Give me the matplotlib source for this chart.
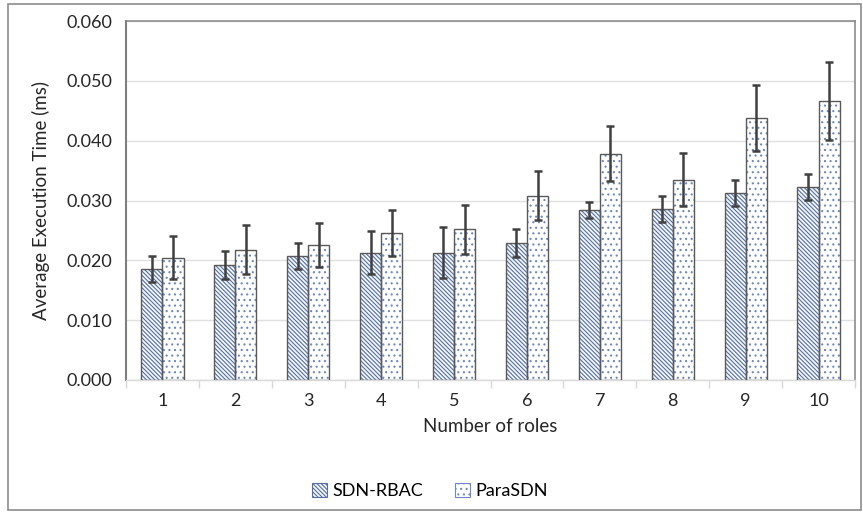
import matplotlib
matplotlib.use("Agg")
import matplotlib.pyplot as plt
import numpy as np
from matplotlib.patches import Rectangle, Patch

categories = ["1", "2", "3", "4", "5", "6", "7", "8", "9", "10"]
sdn_rbac = [0.0185, 0.0192, 0.0207, 0.0213, 0.0213, 0.0229, 0.0284, 0.0286, 0.0312, 0.0323]
sdn_rbac_err = [0.0022, 0.0024, 0.0022, 0.0036, 0.0043, 0.0024, 0.0014, 0.0022, 0.0022, 0.0022]
parasdn = [0.0204, 0.0218, 0.0226, 0.0246, 0.0252, 0.0308, 0.0378, 0.0335, 0.0438, 0.0466]
parasdn_err = [0.0036, 0.0041, 0.0037, 0.0038, 0.0041, 0.0041, 0.0046, 0.0045, 0.0055, 0.0065]
series_names = ["SDN-RBAC", "ParaSDN"]
yticks = [0.0, 0.01, 0.02, 0.03, 0.04, 0.05, 0.06]

plt.rcParams['font.family'] = ['Lato', 'DejaVu Sans']
plt.rcParams['hatch.linewidth'] = 0.8

fig = plt.figure(figsize=(8.63, 5.12), dpi=100)
ax = fig.add_axes([126/863, 1-380/512, (855-126)/863, (380-21)/512])

x = np.arange(len(categories))
w = 0.29
ecol = '#595959'
errc = '#404040'
hatch_sdn = '\\' * 8
hatch_para = '...'
sdn_fill = '#f4f6fa'
sdn_hatch = '#5470a3'
para_hatch = '#6f88bb'

ax.bar(x - w/2, sdn_rbac, w, color=sdn_fill, edgecolor=sdn_hatch, hatch=hatch_sdn, linewidth=0, zorder=2)
ax.bar(x - w/2, sdn_rbac, w, fill=False, edgecolor=ecol, linewidth=1.0, zorder=3)
ax.bar(x + w/2, parasdn, w, color='white', edgecolor=para_hatch, hatch=hatch_para, linewidth=0, zorder=2)
ax.bar(x + w/2, parasdn, w, fill=False, edgecolor=ecol, linewidth=1.0, zorder=3)

ax.errorbar(x - w/2, sdn_rbac, yerr=sdn_rbac_err, fmt='none', ecolor=errc, elinewidth=1.8, capsize=3, capthick=1.8, zorder=4)
ax.errorbar(x + w/2, parasdn, yerr=parasdn_err, fmt='none', ecolor=errc, elinewidth=1.8, capsize=3, capthick=1.8, zorder=4)

ax.set_xlim(-0.5, len(categories) - 0.5)
ax.set_ylim(0, 0.06)
ax.set_yticks(yticks)
ax.set_yticklabels([f"{v:.3f}" for v in yticks], fontsize=13, color='#262626')
ax.set_xticks(x)
ax.set_xticklabels(categories, fontsize=13, color='#262626')
ax.tick_params(axis='y', length=0, pad=10)
ax.tick_params(axis='x', length=0, pad=9)
ax.set_xticks(np.arange(-0.5, len(categories)), minor=True)
ax.tick_params(axis='x', which='minor', length=6, color='#d9d9d9', width=1)
ax.grid(axis='y', color='#e0e0e0', linewidth=1, zorder=0)
ax.set_axisbelow(True)

for s in ['top', 'right']:
    ax.spines[s].set_color('#8c8c8c')
    ax.spines[s].set_linewidth(1.2)
ax.spines['left'].set_color('#7f7f7f')
ax.spines['left'].set_linewidth(1.5)
ax.spines['bottom'].set_color('#d9d9d9')
ax.spines['bottom'].set_linewidth(1)

ax.set_ylabel("Average Execution Time (ms)", fontsize=13.5, color='#262626', labelpad=12)
ax.set_xlabel("Number of roles", fontsize=13.5, color='#262626', labelpad=7)

h1 = Patch(facecolor=sdn_fill, edgecolor=sdn_hatch, hatch=hatch_sdn, linewidth=0.8)
h2 = Patch(facecolor='white', edgecolor=para_hatch, hatch=hatch_para, linewidth=0.8)
fig.legend([h1, h2], series_names, loc='center', bbox_to_anchor=(430/863, 1-491/512),
           ncol=2, frameon=False, fontsize=13, handlelength=0.8, handleheight=0.8,
           handletextpad=0.3, columnspacing=1.8)

fig.patches.append(Rectangle((8/863, 2/512), 853/863, 506/512, transform=fig.transFigure,
                             fill=False, edgecolor='#8c8c8c', linewidth=1.2))

fig.savefig("out.png", dpi=100)
